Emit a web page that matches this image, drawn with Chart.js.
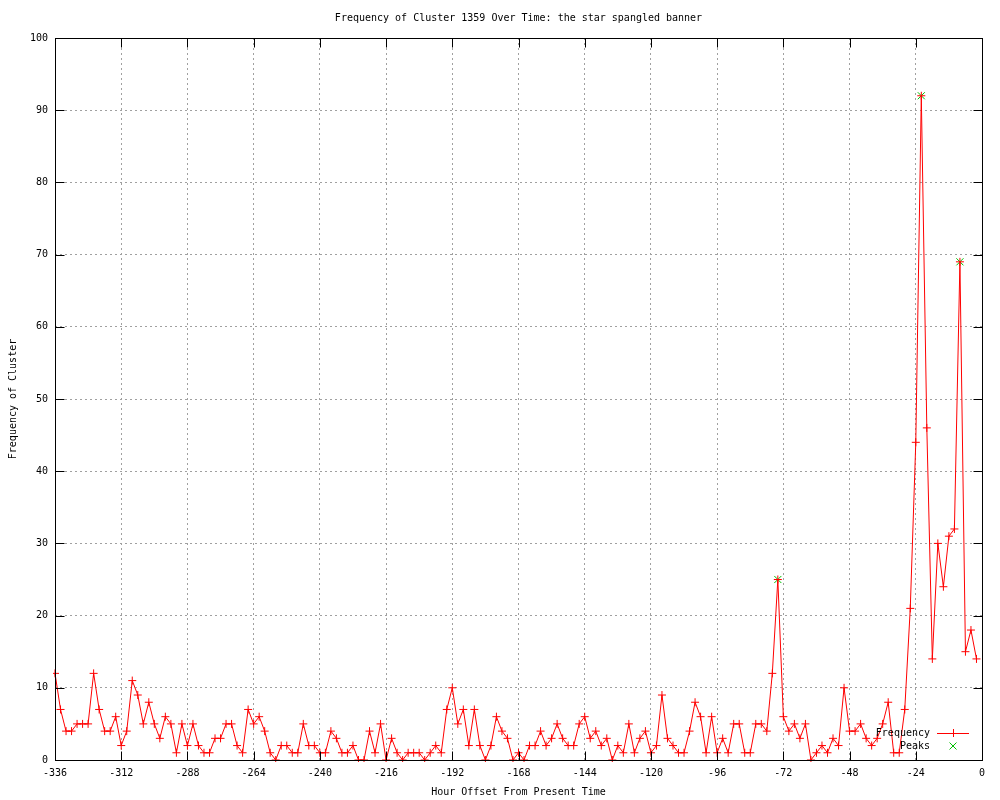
<!DOCTYPE html>
<html><head><meta charset="utf-8">
<script src="https://cdn.jsdelivr.net/npm/chart.js@4/dist/chart.umd.min.js"></script>
<style>html,body{margin:0;padding:0;background:#fff;}#wrap{width:1000px;height:800px;position:relative;}</style>
</head><body><div id="wrap"><canvas id="c" width="1000" height="800"></canvas></div>
<script>
const TITLE = "Frequency of Cluster 1359 Over Time: the star spangled banner";
const X_LABEL = "Hour Offset From Present Time";
const Y_LABEL = "Frequency of Cluster";
const SERIES_FREQ = "Frequency";
const SERIES_PEAKS = "Peaks";

const hours = [
  -336,-334,-332,-330,-328,-326,-324,-322,-320,-318,-316,-314,
  -312,-310,-308,-306,-304,-302,-300,-298,-296,-294,-292,-290,
  -288,-286,-284,-282,-280,-278,-276,-274,-272,-270,-268,-266,
  -264,-262,-260,-258,-256,-254,-252,-250,-248,-246,-244,-242,
  -240,-238,-236,-234,-232,-230,-228,-226,-224,-222,-220,-218,
  -216,-214,-212,-210,-208,-206,-204,-202,-200,-198,-196,-194,
  -192,-190,-188,-186,-184,-182,-180,-178,-176,-174,-172,-170,
  -168,-166,-164,-162,-160,-158,-156,-154,-152,-150,-148,-146,
  -144,-142,-140,-138,-136,-134,-132,-130,-128,-126,-124,-122,
  -120,-118,-116,-114,-112,-110,-108,-106,-104,-102,-100,-98,
  -96,-94,-92,-90,-88,-86,-84,-82,-80,-78,-76,-74,
  -72,-70,-68,-66,-64,-62,-60,-58,-56,-54,-52,-50,
  -48,-46,-44,-42,-40,-38,-36,-34,-32,-30,-28,-26,
  -24,-22,-20,-18,-16,-14,-12,-10,-8,-6,-4,-2
];
const frequency = [
  12,7,4,4,5,5,5,12,7,4,4,6,
  2,4,11,9,5,8,5,3,6,5,1,5,
  2,5,2,1,1,3,3,5,5,2,1,7,
  5,6,4,1,0,2,2,1,1,5,2,2,
  1,1,4,3,1,1,2,0,0,4,1,5,
  0,3,1,0,1,1,1,0,1,2,1,7,
  10,5,7,2,7,2,0,2,6,4,3,0,
  1,0,2,2,4,2,3,5,3,2,2,5,
  6,3,4,2,3,0,2,1,5,1,3,4,
  1,2,9,3,2,1,1,4,8,6,1,6,
  1,3,1,5,5,1,1,5,5,4,12,25,
  6,4,5,3,5,0,1,2,1,3,2,10,
  4,4,5,3,2,3,5,8,1,1,7,21,
  44,92,46,14,30,24,31,32,69,15,18,14
];
const peakHours = [-74, -22, -8];
const peakValues = [25, 92, 69];
const xTicks = [-336,-312,-288,-264,-240,-216,-192,-168,-144,-120,-96,-72,-48,-24,0];
const yTicks = [0,10,20,30,40,50,60,70,80,90,100];

const FONT = "'DejaVu Sans Mono', 'Liberation Mono', monospace";
const RED = '#ff0000';
const GREEN = '#00c000';

const gnuplotDecor = {
  id: 'gnuplotDecor',
  afterDraw(chart) {
    const ctx = chart.ctx;
    const a = chart.chartArea;
    const xs = chart.scales.x, ys = chart.scales.y;
    const L = Math.round(a.left) + 0.5, R = Math.round(a.right) + 0.5;
    const T = Math.round(a.top) + 0.5, B = Math.round(a.bottom) + 0.5;
    ctx.save();
    ctx.strokeStyle = '#000';
    ctx.lineWidth = 1;
    ctx.setLineDash([]);
    ctx.beginPath();
    const tl = 9;
    xTicks.forEach(v => {
      const px = Math.round(xs.getPixelForValue(v)) + 0.5;
      ctx.moveTo(px, B); ctx.lineTo(px, B - tl);
      ctx.moveTo(px, T); ctx.lineTo(px, T + tl);
    });
    yTicks.forEach(v => {
      const py = Math.round(ys.getPixelForValue(v)) + 0.5;
      ctx.moveTo(L, py); ctx.lineTo(L + tl, py);
      ctx.moveTo(R, py); ctx.lineTo(R - tl, py);
    });
    ctx.stroke();
    ctx.strokeRect(L, T, R - L, B - T);

    // title
    ctx.fillStyle = '#000';
    ctx.font = '10px ' + FONT;
    ctx.textAlign = 'center';
    ctx.textBaseline = 'middle';
    ctx.fillText(TITLE, (a.left + a.right) / 2, 18);

    // legend
    const textR = 930, sx0 = 937, sx1 = 969, sxm = 953;
    const rows = [733, 746];
    ctx.textAlign = 'right';
    ctx.fillText(SERIES_FREQ, textR, rows[0]);
    ctx.fillText(SERIES_PEAKS, textR, rows[1]);
    ctx.strokeStyle = RED;
    ctx.beginPath();
    ctx.moveTo(sx0, rows[0] + 0.5); ctx.lineTo(sx1, rows[0] + 0.5);
    ctx.moveTo(sxm + 0.5, rows[0] - 4); ctx.lineTo(sxm + 0.5, rows[0] + 4);
    ctx.stroke();
    ctx.strokeStyle = GREEN;
    ctx.beginPath();
    ctx.moveTo(sxm - 3.5, rows[1] - 3.5); ctx.lineTo(sxm + 3.5, rows[1] + 3.5);
    ctx.moveTo(sxm + 3.5, rows[1] - 3.5); ctx.lineTo(sxm - 3.5, rows[1] + 3.5);
    ctx.stroke();
    ctx.restore();
  }
};

const freqData = hours.map((h, i) => ({x: h, y: frequency[i]}));
const peakData = peakHours.map((h, i) => ({x: h, y: peakValues[i]}));

new Chart(document.getElementById('c'), {
  type: 'line',
  data: {
    datasets: [
      {
        label: SERIES_FREQ, data: freqData,
        borderColor: RED, backgroundColor: RED, borderWidth: 1,
        tension: 0, fill: false,
        pointStyle: 'cross', pointRadius: 4, pointBorderWidth: 1,
        pointBorderColor: RED, pointHoverRadius: 4, clip: 2
      },
      {
        label: SERIES_PEAKS, data: peakData, showLine: false,
        borderColor: GREEN, backgroundColor: GREEN,
        pointStyle: 'crossRot', pointRadius: 5, pointBorderWidth: 1,
        pointBorderColor: GREEN, pointHoverRadius: 5, clip: false
      }
    ]
  },
  options: {
    responsive: false,
    animation: false,
    events: [],
    layout: { padding: { left: 0, top: 38, right: 18, bottom: 0 } },
    plugins: { legend: { display: false }, tooltip: { enabled: false }, title: { display: false } },
    scales: {
      x: {
        type: 'linear', min: -336, max: 0,
        afterBuildTicks: s => { s.ticks = xTicks.map(v => ({value: v})); },
        afterFit: s => { s.height = 40; },
        grid: { color: '#a0a0a0', lineWidth: 1, drawTicks: false },
        border: { display: false, dash: [2, 3] },
        ticks: { autoSkip: false, maxRotation: 0, padding: 7, color: '#000', font: { family: FONT, size: 10 } },
        title: { display: true, text: X_LABEL, color: '#000', font: { family: FONT, size: 10 }, padding: { top: 0, bottom: 2 } }
      },
      y: {
        type: 'linear', min: 0, max: 100,
        afterBuildTicks: s => { s.ticks = yTicks.map(v => ({value: v})); },
        afterFit: s => { s.width = 55; },
        grid: { color: '#a0a0a0', lineWidth: 1, drawTicks: false },
        border: { display: false, dash: [2, 3] },
        ticks: { padding: 7, color: '#000', font: { family: FONT, size: 10 } },
        title: { display: true, text: Y_LABEL, color: '#000', font: { family: FONT, size: 10 }, padding: { top: 7, bottom: 0 } }
      }
    }
  },
  plugins: [gnuplotDecor]
});
</script>
</body></html>
